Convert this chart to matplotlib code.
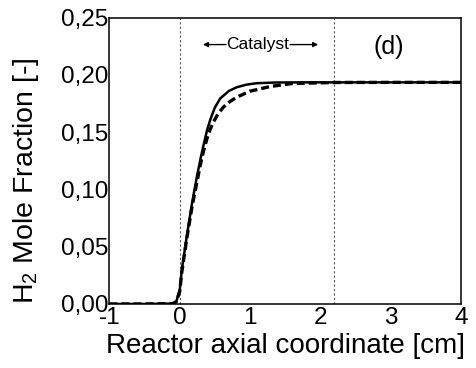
import matplotlib
matplotlib.use("Agg")
import matplotlib.pyplot as plt

plt.rcParams['font.family'] = ['Liberation Sans', 'DejaVu Sans']
plt.rcParams['mathtext.fontset'] = 'custom'
plt.rcParams['mathtext.rm'] = 'Liberation Sans'
plt.rcParams['mathtext.it'] = 'Liberation Sans'
plt.rcParams['axes.unicode_minus'] = False

# values
x_solid = [-1, -0.5, -0.1, -0.05, 0.0, 0.03, 0.1, 0.175, 0.25, 0.30, 0.34, 0.39, 0.435,
           0.5, 0.577, 0.7, 0.814, 0.95, 1.1, 1.38, 1.8, 2.2, 3, 4]
y_solid = [0, 0, 0.0003, 0.002, 0.012, 0.03, 0.059, 0.088, 0.113, 0.128, 0.139, 0.152,
           0.161, 0.1715, 0.1795, 0.186, 0.1893, 0.1915, 0.1928, 0.1934, 0.1935, 0.1935,
           0.1935, 0.1935]

x_dash = [-1, -0.5, -0.1, -0.05, 0.0, 0.03, 0.1, 0.175, 0.25, 0.293, 0.34, 0.388, 0.43,
          0.48, 0.55, 0.624, 0.72, 0.814, 1.0, 1.29, 1.6, 2.2, 3, 4]
y_dash = [0, 0, 0.0003, 0.002, 0.011, 0.028, 0.057, 0.085, 0.108, 0.1215, 0.134, 0.1445,
          0.152, 0.159, 0.1665, 0.172, 0.177, 0.1806, 0.1858, 0.1899, 0.1925, 0.1934,
          0.1935, 0.1935]

catalyst_start = 0.0
catalyst_end = 2.2
xticks = [-1, 0, 1, 2, 3, 4]
yticks = [0.0, 0.05, 0.10, 0.15, 0.20, 0.25]
ytick_labels = ['0,00', '0,05', '0,10', '0,15', '0,20', '0,25']

fig = plt.figure(figsize=(4.76, 3.68), dpi=100)
ax = fig.add_axes([0.230, 0.174, 0.738, 0.778])

ax.axvline(catalyst_start, color='#555555', lw=0.8, ls=(0, (2, 2)))
ax.axvline(catalyst_end, color='#555555', lw=0.8, ls=(0, (2, 2)))

ax.plot(x_solid, y_solid, color='black', lw=1.8)
ax.plot(x_dash, y_dash, color='black', lw=2.4, dashes=(2.4, 1.2))

ax.set_xlim(-1, 4)
ax.set_ylim(0, 0.25)
ax.set_xticks(xticks)
ax.set_xticklabels([str(t) for t in xticks])
ax.set_yticks(yticks)
ax.set_yticklabels(ytick_labels)
ax.tick_params(length=0, labelsize=17.5)
ax.tick_params(axis='y', pad=1)
ax.tick_params(axis='x', pad=2)
for s in ax.spines.values():
    s.set_linewidth(1.1)

ax.set_xlabel('Reactor axial coordinate [cm]', fontsize=20, labelpad=3)
ax.set_ylabel('H$_2$ Mole Fraction [-]', fontsize=20.5)
ax.yaxis.set_label_coords(-0.195, 0.43)

# catalyst annotation
yc = 0.2265
ax.text(1.11, yc, 'Catalyst', fontsize=12.5, ha='center', va='center')
ax.annotate('', xy=(0.33, yc), xytext=(0.66, yc),
            arrowprops=dict(arrowstyle='-|>', color='black', lw=1.0,
                            mutation_scale=7, shrinkA=0, shrinkB=0))
ax.annotate('', xy=(1.97, yc), xytext=(1.57, yc),
            arrowprops=dict(arrowstyle='-|>', color='black', lw=1.0,
                            mutation_scale=7, shrinkA=0, shrinkB=0))
ax.text(2.98, 0.224, '(d)', fontsize=18, ha='center', va='center')

fig.savefig('out.png', dpi=100)
